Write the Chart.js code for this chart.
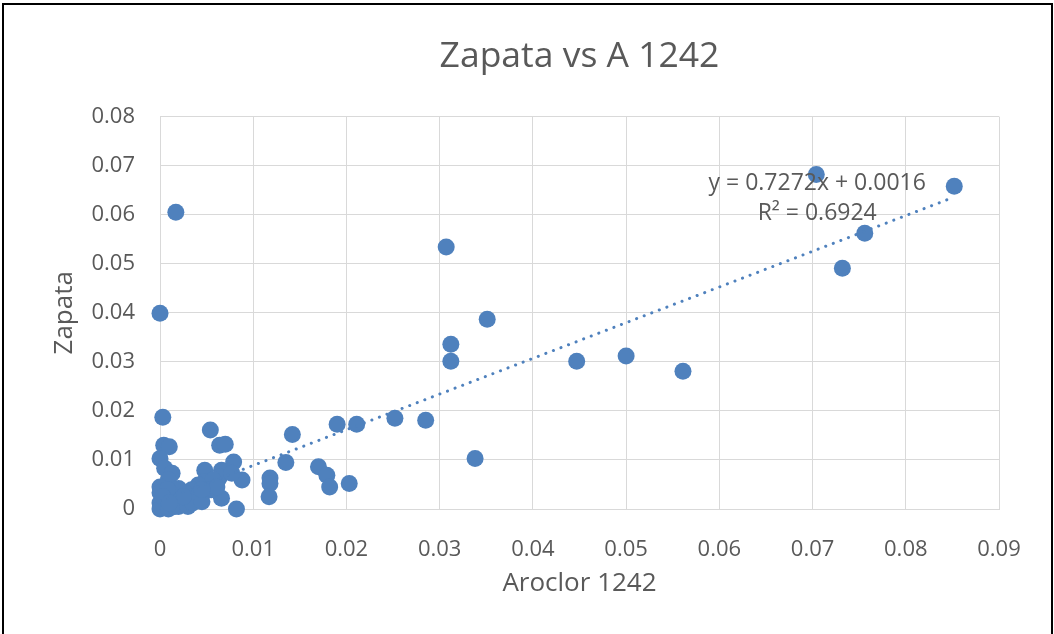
<!DOCTYPE html>
<html>
<head>
<meta charset="utf-8">
<title>Zapata vs A 1242</title>
<script src="https://cdn.jsdelivr.net/npm/chart.js@4.4.1/dist/chart.umd.min.js"></script>
<style>
  body { margin: 0; background: #fff; overflow: hidden; }
  #wrap { position: relative; width: 1054px; height: 634px; }
  #frame {
    position: absolute; left: 2px; top: 3px; width: 1047px; height: 700px;
    border: 2px solid #000; border-bottom: none; pointer-events: none;
  }
</style>
</head>
<body>
<div id="wrap">
  <canvas id="scatter" width="1054" height="634"></canvas>
  <div id="frame"></div>
</div>
<script>
  "use strict";

  // Data
  var aroclor = [
    0.0852, 0.0704, 0.0756, 0.0732, 0.0561, 0.0500, 0.0447, 0.0307, 0.0351, 0.0312,
    0.0312, 0.0338, 0.0285, 0.0252, 0.0211, 0.0190, 0.0203, 0.0142, 0.0135, 0.0170,
    0.0179, 0.0182, 0.0118, 0.0118, 0.0117, 0.0088, 0.0079, 0.0082, 0.0066, 0.0054,
    0.0064, 0.0070, 0.0017, 0.0000, 0.0003, 0.0004, 0.0010, 0.0000, 0.0005, 0.0013,
    0.0009, 0.0048, 0.0066, 0.0064, 0.0077, 0.0048, 0.0057, 0.0041, 0.0055, 0.0034,
    0.0027, 0.0020, 0.0038, 0.0030, 0.0023, 0.0013, 0.0005, 0.0000, 0.0000, 0.0000,
    0.0000, 0.0009, 0.0016, 0.0020, 0.0030, 0.0045, 0.0040, 0.0008, 0.0003, 0.0061,
    0.0035, 0.0045, 0.0025, 0.0010, 0.0045
  ];
  var zapata = [
    0.0658, 0.0682, 0.0562, 0.0491, 0.0281, 0.0312, 0.0301, 0.0534, 0.0387, 0.0336,
    0.0301, 0.0103, 0.0181, 0.0185, 0.0173, 0.0173, 0.0052, 0.0152, 0.0095, 0.0086,
    0.0069, 0.0045, 0.0063, 0.0052, 0.0025, 0.0059, 0.0096, 0.0000, 0.0022, 0.0161,
    0.0130, 0.0132, 0.0605, 0.0399, 0.0187, 0.0130, 0.0127, 0.0103, 0.0083, 0.0073,
    0.0059, 0.0079, 0.0079, 0.0065, 0.0073, 0.0056, 0.0059, 0.0049, 0.0039, 0.0039,
    0.0032, 0.0042, 0.0022, 0.0018, 0.0015, 0.0028, 0.0018, 0.0045, 0.0033, 0.0012,
    0.0000, 0.0000, 0.0005, 0.0005, 0.0005, 0.0030, 0.0025, 0.0040, 0.0025, 0.0045,
    0.0012, 0.0015, 0.0025, 0.0012, 0.0040
  ];

  // Linear trendline end points and its label
  var trendX = [0, 0.0852];
  var trendY = [0.0016, 0.0636];
  var trendText = ["y = 0.7272x + 0.0016", "R\u00B2 = 0.6924"];

  var xTicks = [0, 0.01, 0.02, 0.03, 0.04, 0.05, 0.06, 0.07, 0.08, 0.09];
  var yTicks = [0, 0.01, 0.02, 0.03, 0.04, 0.05, 0.06, 0.07, 0.08];

  var blue = "#4F81BD";
  var grey = "#595959";
  var gridColor = "#d9d9d9";
  var font = "'Open Sans', sans-serif";

  function toPoints(xs, ys) {
    return xs.map(function (x, i) { return { x: x, y: ys[i] }; });
  }

  // Trendline equation text
  var trendLabel = {
    id: "trendLabel",
    afterDatasetsDraw: function (chart) {
      var ctx = chart.ctx;
      var xs = chart.scales.x, ys = chart.scales.y;
      var cx = xs.getPixelForValue(0.0705);
      var cy = ys.getPixelForValue(0.0664);
      ctx.save();
      ctx.font = "23px " + font;
      ctx.fillStyle = grey;
      ctx.textAlign = "center";
      ctx.textBaseline = "middle";
      ctx.fillText(trendText[0], cx, cy);
      ctx.fillText(trendText[1], cx, cy + 30);
      ctx.restore();
    }
  };

  Chart.defaults.font.family = font;
  Chart.defaults.color = grey;

  var ctx = document.getElementById("scatter").getContext("2d");
  var chart = new Chart(ctx, {
    type: "scatter",
    data: {
      datasets: [{
        label: "Zapata",
        data: toPoints(aroclor, zapata),
        backgroundColor: blue,
        borderColor: blue,
        borderWidth: 0,
        pointRadius: 8.5,
        pointHoverRadius: 8.5,
        clip: false,
        order: 1
      },
      {
        label: "Linear (Zapata)",
        data: toPoints(trendX, trendY),
        showLine: true,
        borderColor: blue,
        borderWidth: 3,
        borderDash: [0.1, 8],
        borderCapStyle: "round",
        pointRadius: 0,
        order: 0
      }]
    },
    options: {
      responsive: false,
      animation: false,
      devicePixelRatio: 1,
      layout: { padding: { left: 0, right: 55, top: 0, bottom: 0 } },
      plugins: {
        legend: { display: false },
        tooltip: { enabled: false },
        title: {
          display: true,
          text: "Zapata vs A 1242",
          fullSize: false,
          color: grey,
          font: { size: 35.5, weight: "normal" },
          padding: { top: 36, bottom: 38 }
        }
      },
      scales: {
        x: {
          type: "linear",
          min: 0,
          max: 0.09,
          afterBuildTicks: function (s) { s.ticks = xTicks.map(function (v) { return { value: v }; }); },
          afterFit: function (s) { s.height = 125; },
          ticks: { font: { size: 22 }, color: grey, padding: 28, maxRotation: 0 },
          grid: { color: gridColor, drawTicks: false },
          border: { color: gridColor },
          title: {
            display: true,
            text: "Aroclor 1242",
            color: grey,
            font: { size: 26 },
            padding: { top: 0, bottom: 35 }
          }
        },
        y: {
          type: "linear",
          min: 0,
          max: 0.08,
          afterBuildTicks: function (s) { s.ticks = yTicks.map(function (v) { return { value: v }; }); },
          afterFit: function (s) { s.width = 160; },
          ticks: { font: { size: 22 }, color: grey, padding: 25 },
          grid: { color: gridColor, drawTicks: false },
          border: { color: gridColor },
          title: {
            display: true,
            text: "Zapata",
            color: grey,
            font: { size: 26 },
            padding: { top: 49, bottom: 0 }
          }
        }
      }
    },
    plugins: [trendLabel]
  });
</script>
</body>
</html>
